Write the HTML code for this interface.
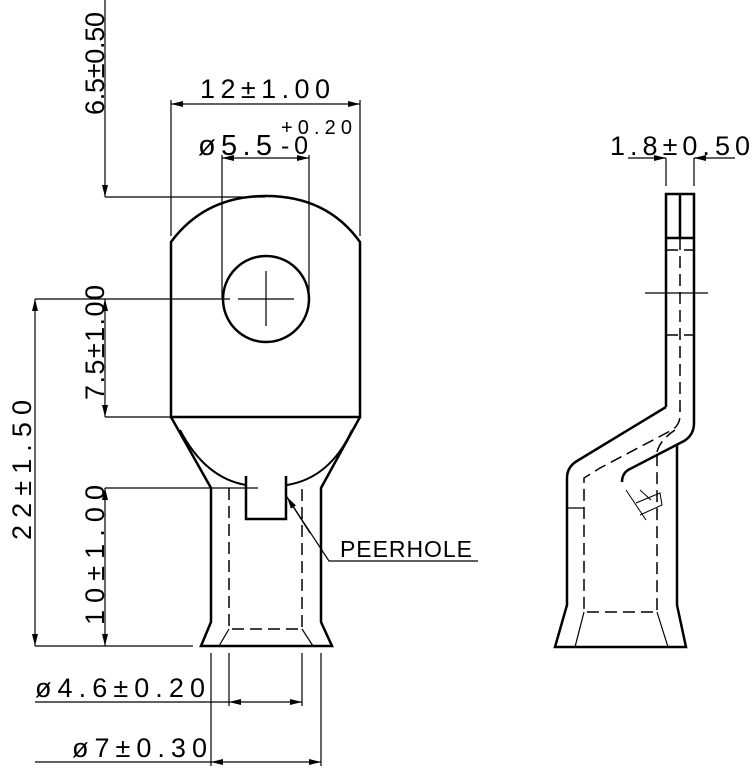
<!DOCTYPE html>
<html><head><meta charset="utf-8"><style>
html,body{margin:0;padding:0;background:#fff;}
svg{display:block;}
text{font-family:"Liberation Sans","DejaVu Sans",sans-serif;fill:#000;}
</style></head><body>
<svg width="756" height="776" viewBox="0 0 756 776" xmlns="http://www.w3.org/2000/svg">
<defs>
<marker id="a" viewBox="0 0 12 6" refX="12" refY="3" markerWidth="12" markerHeight="6" markerUnits="userSpaceOnUse" orient="auto"><path d="M0,0 L12,3 L0,6 Z" fill="#000"/></marker>
</defs>
<g fill="none" stroke="#000">
<g stroke-width="2.5">
<path d="M171,417 L171,242 Q205,196 266,196 Q327,196 360,242 L360,417 Z"/>
<circle cx="266" cy="299" r="43"/>
<path d="M171,417 L211,488 L211,622 L201,646 L332,646 L321,622 L321,488 L360,417"/>
<path d="M180,430 Q205,478 246,485 M287,485 Q330,478 352,430" stroke-width="2"/>
<path d="M246,476 L246,519 L286,519 L286,476"/>
</g>
<g stroke-width="1.5" stroke-dasharray="12,6">
<path d="M229,488 L229,629 L302,629 L302,488"/>
</g>
<path d="M229,629 L219,646 M302,629 L313,646" stroke-width="1.2"/>
<path d="M266,271 L266,326 M238,299 L294,299" stroke-width="1.2"/>
<g stroke-width="1.2">
<path d="M171,100 L171,236 M360,100 L360,236"/>
<path d="M222,155 L222,299 M309,155 L309,299"/>
<path d="M105,197 L265,197"/>
<path d="M35,299 L230,299"/>
<path d="M105,417 L171,417"/>
<path d="M105,488 L258,488"/>
<path d="M35,646 L193,646"/>
<path d="M229,653 L229,706 M302,653 L302,706"/>
<path d="M211,653 L211,766 M321,653 L321,766"/>
<path d="M35,702 L229,702 M35,762 L211,762"/>
<path d="M287,497 L329,561 L478,561"/>
</g>
<g stroke-width="1.2">
<path d="M266,104 L171,104" marker-end="url(#a)"/>
<path d="M266,104 L360,104" marker-end="url(#a)"/>
<path d="M266,158 L222,158" marker-end="url(#a)"/>
<path d="M266,158 L309,158" marker-end="url(#a)"/>
<path d="M105,0 L105,197" marker-end="url(#a)"/>
<path d="M105,357 L105,299" marker-end="url(#a)"/>
<path d="M105,357 L105,417" marker-end="url(#a)"/>
<path d="M35,470 L35,299" marker-end="url(#a)"/>
<path d="M35,470 L35,646" marker-end="url(#a)"/>
<path d="M105,566 L105,488" marker-end="url(#a)"/>
<path d="M105,566 L105,646" marker-end="url(#a)"/>
<path d="M265,702 L229,702" marker-end="url(#a)"/>
<path d="M265,702 L302,702" marker-end="url(#a)"/>
<path d="M266,762 L211,762" marker-end="url(#a)"/>
<path d="M266,762 L321,762" marker-end="url(#a)"/>
<path d="M310,533 L287,497" marker-end="url(#a)"/>
</g>
<g stroke-width="2.5">
<path d="M666,407 L666,194 L694,194 L694,423 Q694,435 684,441 L628,470 Q622,474 622,482"/>
<path d="M680,194 L680,238 M666,238 L694,238"/>
<path d="M666,407 L577,461 Q567,467 567,478 L567,605 L555,647 L686,647 L677,605 L677,445"/>
</g>
<g stroke-width="1.5" stroke-dasharray="12,6">
<path d="M680,238 L680,415 Q680,425 672,430 L600,468 L584,478 L584,612 L657,612 L657,450"/>
<path d="M666,250 L694,250 M666,335 L694,335"/>
<path d="M657,452 Q660,440 675,430"/>
</g>
<path d="M584,612 L575,647 M657,612 L668,647 M567,508 L584,508 M645,293 L708,293" stroke-width="1.2"/>
<path d="M640,490 L651,500 M626,490 L646,520 M636,503 L660,493 L662,505 L640,515" stroke-width="1"/>
<g stroke-width="1.2">
<path d="M666,158 L666,186 M694,158 L694,186"/>
<path d="M628,158 L666,158" marker-end="url(#a)"/>
<path d="M735,158 L694,158" marker-end="url(#a)"/>
</g>
</g>
<g font-size="27">
<text x="200" y="98" textLength="130">12±1.00</text>
<text x="198" y="155" font-size="29" textLength="74">ø5.5</text>
<text x="281" y="134" font-size="20" textLength="71">+0.20</text>
<text x="281" y="154" font-size="25" textLength="27">-0</text>
<text x="610" y="155" textLength="140">1.8±0.50</text>
<text x="340" y="557" font-size="23" textLength="132">PEERHOLE</text>
<text x="35" y="697" textLength="170">ø4.6±0.20</text>
<text x="72" y="757" textLength="135">ø7±0.30</text>
<text transform="translate(104,115) rotate(-90)" textLength="103">6.5±0.50</text>
<text transform="translate(104,400) rotate(-90)" textLength="115">7.5±1.00</text>
<text transform="translate(31,540) rotate(-90)" textLength="140">22±1.50</text>
<text transform="translate(104,625) rotate(-90)" textLength="140">10±1.00</text>
</g>
</svg>
</body></html>
